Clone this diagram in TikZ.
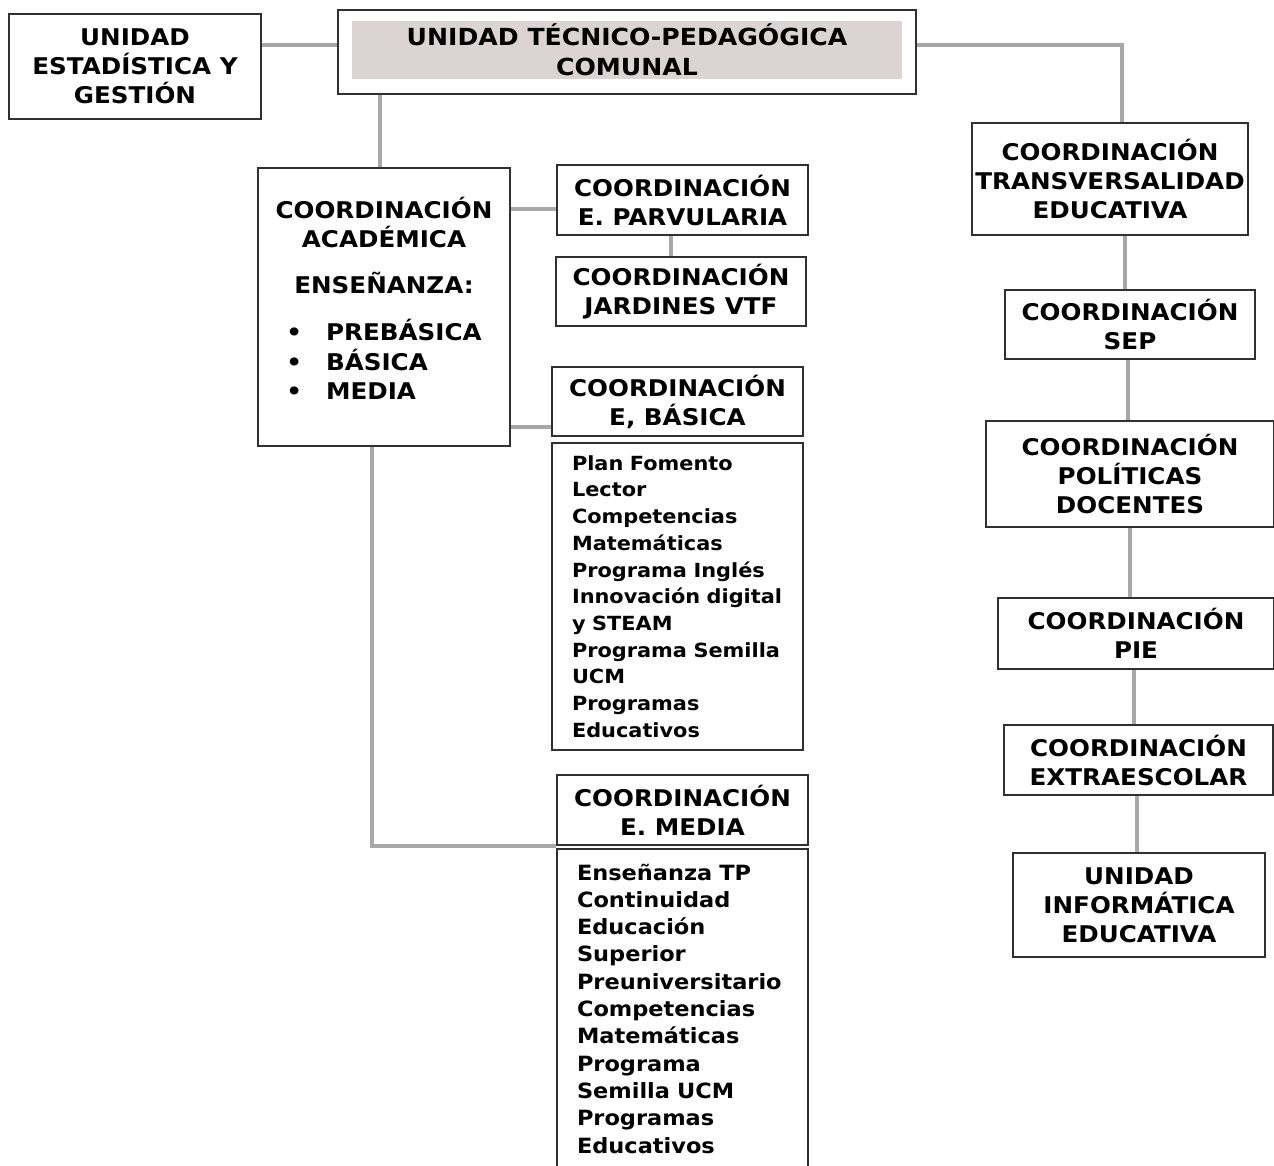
\documentclass[tikz,border=0pt]{standalone}
\usepackage{fontspec}
\setmainfont{DejaVu Sans}[FakeStretch=1.07]
\definecolor{linkgray}{HTML}{A8A8A8}
\definecolor{utpfill}{HTML}{DCD3D3}
\definecolor{boxline}{HTML}{303030}

\begin{document}
\begin{tikzpicture}
        [x=1pt, y=-1pt,
        box/.style={draw=boxline, line width=1.4pt, fill=white, align=center, inner sep=0pt,
                    font=\fontsize{23}{29}\selectfont\bfseries},
        listbox/.style={box, align=left, inner xsep=20pt, text width=211pt},
        link/.style={linkgray, line width=4pt}]

        \useasboundingbox (0,0) rectangle (1274,1165);

        % top row
        \node[box, minimum width=252, minimum height=105] (est) at (135,66.5) {UNIDAD\\ESTADÍSTICA Y\\GESTIÓN};
        \node[box, minimum width=578, minimum height=84] (utp) at (627,52) {};
        \node[fill=utpfill, minimum width=550, minimum height=58, align=center, inner sep=0pt,
              font=\fontsize{23.5}{30}\selectfont\bfseries] (utptxt) at (627,50) {UNIDAD TÉCNICO-PEDAGÓGICA\\COMUNAL};

        % left branch
        \node[box, minimum width=252, minimum height=278] (acad) at (384,307) {};
        \node[align=center, anchor=north, inner sep=0pt, font=\fontsize{23}{29}\selectfont\bfseries]
              (acadtxt) at (384,197) {COORDINACIÓN\\ACADÉMICA\\[17pt]ENSEÑANZA:\\[24pt]
              \begin{tabular}{@{}l@{\hspace{24pt}}l@{}}
              • & PREBÁSICA\\[0pt] • & BÁSICA\\[0pt] • & MEDIA
              \end{tabular}};
        \node[box, minimum width=251, minimum height=70] (parv) at (682.5,200) {COORDINACIÓN\\E. PARVULARIA};
        \node[box, minimum width=250, minimum height=69] (jard) at (681,291.5) {COORDINACIÓN\\JARDINES VTF};
        \node[box, minimum width=251, minimum height=69] (basica) at (677.5,401.5) {COORDINACIÓN\\E, BÁSICA};
        \node[listbox, minimum height=307, font=\fontsize{19.5}{26.7}\selectfont\bfseries] (baslist) at (677.5,596.5)
              {Plan Fomento\\Lector\\Competencias\\Matemáticas\\Programa Inglés\\Innovación digital\\y STEAM\\Programa Semilla\\UCM\\Programas\\Educativos};
        \node[box, minimum width=251, minimum height=70] (media) at (682.5,810) {COORDINACIÓN\\E. MEDIA};
        \node[listbox, minimum height=319, font=\fontsize{21}{27.3}\selectfont\bfseries] (medlist) at (682.5,1008.5)
              {Enseñanza TP\\Continuidad\\Educación\\Superior\\Preuniversitario\\Competencias\\Matemáticas\\Programa\\Semilla UCM\\Programas\\Educativos};

        % right branch
        \node[box, minimum width=276, minimum height=112] (trans) at (1110,179) {COORDINACIÓN\\TRANSVERSALIDAD\\EDUCATIVA};
        \node[box, minimum width=250, minimum height=69] (sep) at (1130,324.5) {COORDINACIÓN\\SEP};
        \node[box, minimum width=288, minimum height=106] (polit) at (1130,474) {COORDINACIÓN\\POLÍTICAS\\DOCENTES};
        \node[box, minimum width=276, minimum height=71] (pie) at (1136,633.5) {COORDINACIÓN\\PIE};
        \node[box, minimum width=269, minimum height=70] (extra) at (1138.5,760) {COORDINACIÓN\\EXTRAESCOLAR};
        \node[box, minimum width=252, minimum height=104] (info) at (1139,905) {UNIDAD\\INFORMÁTICA\\EDUCATIVA};

        % links
        \draw[link] ([yshift=7]utp.west) -- ([yshift=7]utp.west -| est.east);
        \draw[link] ([yshift=7]utp.east) -| ([xshift=12]trans.north);
        \draw[link] ([xshift=-4]acad.north) -- ([xshift=-4]acad.north |- utp.south);
        \draw[link] ([yshift=-9]parv.west) -- ([yshift=-9]parv.west -| acad.east);
        \draw[link] ([xshift=-12]parv.south) -- ([xshift=-12]parv.south |- jard.north);
        \draw[link] ([yshift=10]basica.south west) -- ([yshift=10]basica.south west -| acad.east);
        \draw[link] ([xshift=-12]acad.south) |- (media.south west);
        \draw[link] ([xshift=15]trans.south) -- ([xshift=15]trans.south |- sep.north);
        \draw[link] ([xshift=-2]sep.north |- sep.south) -- ([xshift=-2]sep.south |- polit.north);
        \draw[link] (polit.south) -- (polit.south |- pie.north);
        \draw[link] ([xshift=-2]pie.south) -- ([xshift=-2]pie.south |- extra.north);
        \draw[link] ([xshift=-2]extra.south) -- ([xshift=-2]extra.south |- info.north);

    \end{tikzpicture}
\end{document}
